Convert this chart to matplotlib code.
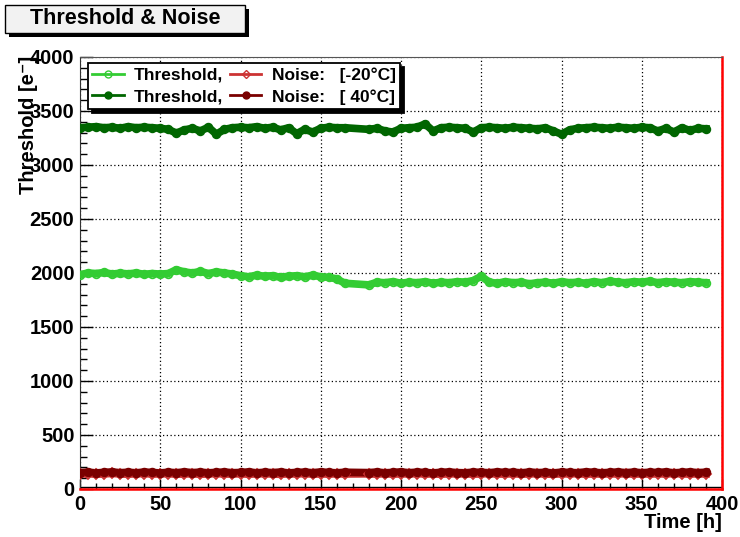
import numpy as np
import matplotlib.pyplot as plt
from matplotlib.lines import Line2D
from matplotlib.patches import Rectangle
from matplotlib.ticker import MultipleLocator

plt.rcParams['font.family'] = ['Liberation Sans', 'DejaVu Sans']
plt.rcParams['font.weight'] = 'bold'

# measurement times [h]; no data taken between 165 h and 180 h
time_a = np.arange(0, 166, 5)
time_b = np.arange(180, 391, 5)
time_h = np.concatenate([time_a, time_b])

# threshold at -20 C
thr_m20 = [1985, 2000, 1995, 2005, 1990, 1998, 1992, 2000, 1988, 1995, 1990,
           1995, 2030, 2010, 2000, 2015, 1995, 2010, 2000, 1990,
           1975, 1965, 1980, 1970, 1975, 1960, 1970, 1975, 1965, 1980, 1965, 1960, 1945,
           1905,
           1890, 1915, 1910, 1920, 1905, 1915, 1910, 1920, 1905, 1915,
           1910, 1920, 1915, 1930, 1970,
           1915, 1905, 1920, 1910, 1915, 1900, 1910, 1915, 1905, 1920,
           1910, 1915, 1905, 1920, 1910, 1925, 1915, 1910, 1920, 1915,
           1925, 1910, 1920, 1915, 1910, 1920, 1915, 1910]

# threshold at 40 C
thr_40 = [3345, 3350, 3355, 3345, 3350, 3340, 3355, 3345, 3350, 3345, 3340,
          3330, 3295, 3325, 3340, 3315, 3350, 3285, 3330, 3345,
          3350, 3345, 3355, 3340, 3350, 3325, 3345, 3290, 3330, 3305, 3340, 3350, 3345,
          3345,
          3330, 3340, 3315, 3305, 3340, 3345, 3350, 3380, 3315, 3345,
          3350, 3345, 3340, 3305, 3345,
          3350, 3345, 3340, 3350, 3345, 3340, 3335, 3345, 3315, 3285,
          3325, 3340, 3345, 3350, 3345, 3340, 3350, 3345, 3340, 3350,
          3345, 3315, 3340, 3305, 3345, 3320, 3340, 3335]

# noise at -20 C
noise_m20 = [138, 142, 136, 140, 144, 139, 137, 141, 143, 138, 140,
             142, 137, 139, 141, 136, 140, 143, 138, 139,
             141, 137, 140, 142, 138, 136, 141, 139, 143, 137, 140, 138, 141,
             139,
             140, 138, 142, 137, 141, 139, 143, 138, 140, 136,
             142, 139, 141, 137, 140,
             143, 138, 139, 141, 137, 140, 142, 138, 136, 141,
             139, 143, 137, 140, 138, 141, 139, 142, 137, 140,
             138, 141, 139, 143, 140, 138, 141, 139]

# noise at 40 C
noise_40 = [152, 156, 149, 154, 158, 151, 155, 150, 157, 153, 149,
            155, 151, 158, 152, 156, 150, 154, 157, 151,
            153, 158, 150, 155, 152, 157, 149, 154, 156, 151, 158, 153, 150,
            155,
            152, 157, 150, 154, 158, 151, 156, 153, 149, 155,
            157, 152, 150, 156, 154,
            151, 158, 153, 155, 150, 157, 152, 154, 149, 156,
            153, 151, 158, 155, 150, 154, 157, 152, 156, 151,
            155, 153, 158, 150, 154, 157, 152, 155]

c_lgreen = '#33cc33'
c_dgreen = '#006600'
c_lred = '#cc3333'
c_dred = '#7a0000'

fig = plt.figure(figsize=(7.4, 5.37), dpi=100)
ax = fig.add_axes([80 / 740, 1 - 489 / 537, 642 / 740, 432 / 537])

series = [
    (thr_m20, c_lgreen, 'o', 'none'),
    (thr_40, c_dgreen, 'o', c_dgreen),
    (noise_m20, c_lred, 'D', 'none'),
    (noise_40, c_dred, 'o', c_dred),
]
for vals, col, mk, fc in series:
    ax.plot(time_h, vals, color=col, lw=5.5, solid_joinstyle='round', zorder=3)
    ax.plot(time_h, vals, ls='none', marker=mk, ms=5.5, mfc=fc, mec=col,
            mew=1.3, zorder=4)

ax.set_xlim(0, 400)
ax.set_ylim(0, 4000)
ax.xaxis.set_major_locator(MultipleLocator(50))
ax.xaxis.set_minor_locator(MultipleLocator(10))
ax.yaxis.set_major_locator(MultipleLocator(500))
ax.yaxis.set_minor_locator(MultipleLocator(100))
ax.tick_params(which='both', direction='in', top=False, right=False,
               labelsize=14.5, colors='black')
ax.tick_params(axis='y', which='major', length=9, width=1, pad=4)
ax.tick_params(axis='y', which='minor', length=5, width=1)
ax.tick_params(axis='x', which='major', length=7, width=1, pad=4)
ax.tick_params(axis='x', which='minor', length=4, width=1)
for lab in ax.get_xticklabels() + ax.get_yticklabels():
    lab.set_fontweight('bold')
ax.grid(True, which='major', color='black', ls=(0, (1, 2)), lw=0.9)

ax.spines['left'].set_color('#333333')
ax.spines['top'].set_color('#555555')
ax.spines['right'].set_color('red')
ax.spines['bottom'].set_color('red')
ax.spines['right'].set_linewidth(1.8)
ax.spines['bottom'].set_linewidth(1.8)
# black axis line sitting just above the red frame edge
ax.axhline(15, color='black', lw=1, zorder=2)

# legend with thin-line handles
handles = [
    Line2D([], [], color=c_lgreen, lw=2, marker='o', ms=5, mfc='none', mec=c_lgreen),
    Line2D([], [], color=c_dgreen, lw=2, marker='o', ms=5, mfc=c_dgreen, mec=c_dgreen),
    Line2D([], [], color=c_lred, lw=2, marker='D', ms=4.5, mfc='none', mec=c_lred),
    Line2D([], [], color=c_dred, lw=2, marker='o', ms=5, mfc=c_dred, mec=c_dred),
]
labels = ['Threshold,', 'Threshold,', 'Noise:   [-20°C]', 'Noise:   [ 40°C]']
leg = ax.legend(handles, labels, ncol=2, loc='upper left',
                bbox_to_anchor=(8 / 642, 1 - 6 / 432), fontsize=12.5,
                frameon=True, fancybox=False, framealpha=1,
                edgecolor='black', facecolor='white',
                shadow={'ox': 3, 'oy': -3, 'color': 'black', 'alpha': 1},
                borderpad=0.25, labelspacing=0.35, handlelength=1.8,
                handletextpad=0.6, columnspacing=0.4, borderaxespad=0)
leg.get_frame().set_linewidth(1.3)
leg.set_zorder(10)
for t in leg.get_texts():
    t.set_fontweight('bold')

# title box with drop shadow
fig.patches.append(Rectangle((9 / 740, 1 - 37 / 537), 240 / 740, 28 / 537,
                             transform=fig.transFigure, facecolor='black',
                             edgecolor='none'))
fig.patches.append(Rectangle((5 / 740, 1 - 33 / 537), 240 / 740, 28 / 537,
                             transform=fig.transFigure, facecolor='#f2f2f2',
                             edgecolor='black', lw=1))
fig.text(125 / 740, 1 - 19 / 537, 'Threshold & Noise', ha='center', va='center',
         fontsize=15.5, fontweight='bold')

fig.text(29 / 740, 1 - 56 / 537, 'Threshold [e⁻]', rotation=90, ha='center',
         va='top', fontsize=14.5, fontweight='bold')
fig.text(722 / 740, 1 - 523 / 537, 'Time [h]', ha='right', va='center',
         fontsize=14.5, fontweight='bold')

fig.savefig('out.png', dpi=100)
